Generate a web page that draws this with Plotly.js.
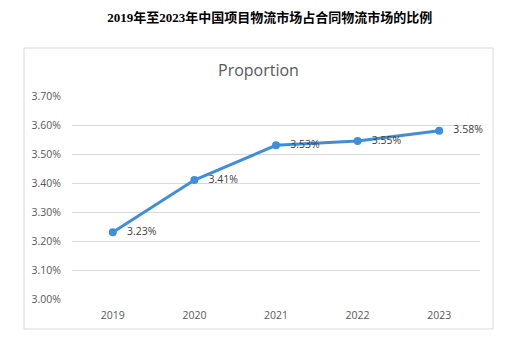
<!DOCTYPE html>
<html>
<head>
<meta charset="utf-8">
<script src="https://cdn.plot.ly/plotly-3.0.1.min.js"></script>
<style>html,body{margin:0;padding:0;background:#fff;}#chart{width:527px;height:357px;}</style>
</head>
<body>
<div id="chart"></div>
<script>
const years = ["2019", "2020", "2021", "2022", "2023"];
const proportion = [3.23, 3.41, 3.53, 3.545, 3.58];
const labels = ["3.23%", "3.41%", "3.53%", "3.55%", "3.58%"];
const yTicks = [3.0, 3.1, 3.2, 3.3, 3.4, 3.5, 3.6, 3.7];
const yTickText = ["3.00%", "3.10%", "3.20%", "3.30%", "3.40%", "3.50%", "3.60%", "3.70%"];

const trace = {
  type: "scatter",
  mode: "lines+markers+text",
  x: years,
  y: proportion,
  text: labels,
  texttemplate: "   %{text}",
  textposition: "middle right",
  textfont: {family: "Open Sans, Liberation Sans, sans-serif", size: 10.5, color: "#404040"},
  line: {color: "#3F8EDB", width: 3},
  marker: {color: "#3F8EDB", size: 8},
  cliponaxis: false,
  hoverinfo: "skip"
};

const layout = {
  width: 527, height: 357,
  paper_bgcolor: "#fff", plot_bgcolor: "#fff",
  margin: {l: 72, r: 47, t: 96, b: 58},
  showlegend: false,
  title: {
    text: "2019年至2023年中国项目物流市场占合同物流市场的比例",
    font: {family: "Liberation Serif, Noto Sans CJK SC, serif", size: 13, color: "#000", weight: "bold"},
    xref: "container", yref: "container",
    x: 0.512, xanchor: "center", y: 0.952, yanchor: "middle"
  },
  xaxis: {
    type: "category",
    range: [-0.5, 4.5],
    showgrid: false, zeroline: false, showline: false,
    ticks: "", ticklen: 0,
    ticklabelstandoff: 8,
    tickfont: {family: "Open Sans, Liberation Sans, sans-serif", size: 10.5, color: "#595959"}
  },
  yaxis: {
    range: [3.0, 3.7],
    tickmode: "array",
    tickvals: yTicks,
    ticktext: yTickText,
    showgrid: true, gridcolor: "#D9D9D9", gridwidth: 1,
    zeroline: false, showline: false, ticks: "",
    ticklabelstandoff: 10,
    tickfont: {family: "Open Sans, Liberation Sans, sans-serif", size: 10.5, color: "#595959"}
  },
  annotations: [{
    text: "Proportion", showarrow: false,
    xref: "paper", yref: "paper", x: 0.456, y: 1.128,
    xanchor: "center", yanchor: "middle",
    font: {family: "Open Sans, Liberation Sans, sans-serif", size: 16, color: "#595959"}
  }],
  shapes: [{
    type: "rect", xref: "paper", yref: "paper",
    x0: -0.1176, x1: 1.0319, y0: -0.1478, y1: 1.2365,
    line: {color: "#D9D9D9", width: 1}, fillcolor: "rgba(0,0,0,0)", layer: "below"
  }]
};

Plotly.newPlot("chart", [trace], layout, {displayModeBar: false, staticPlot: true});
</script>
</body>
</html>
